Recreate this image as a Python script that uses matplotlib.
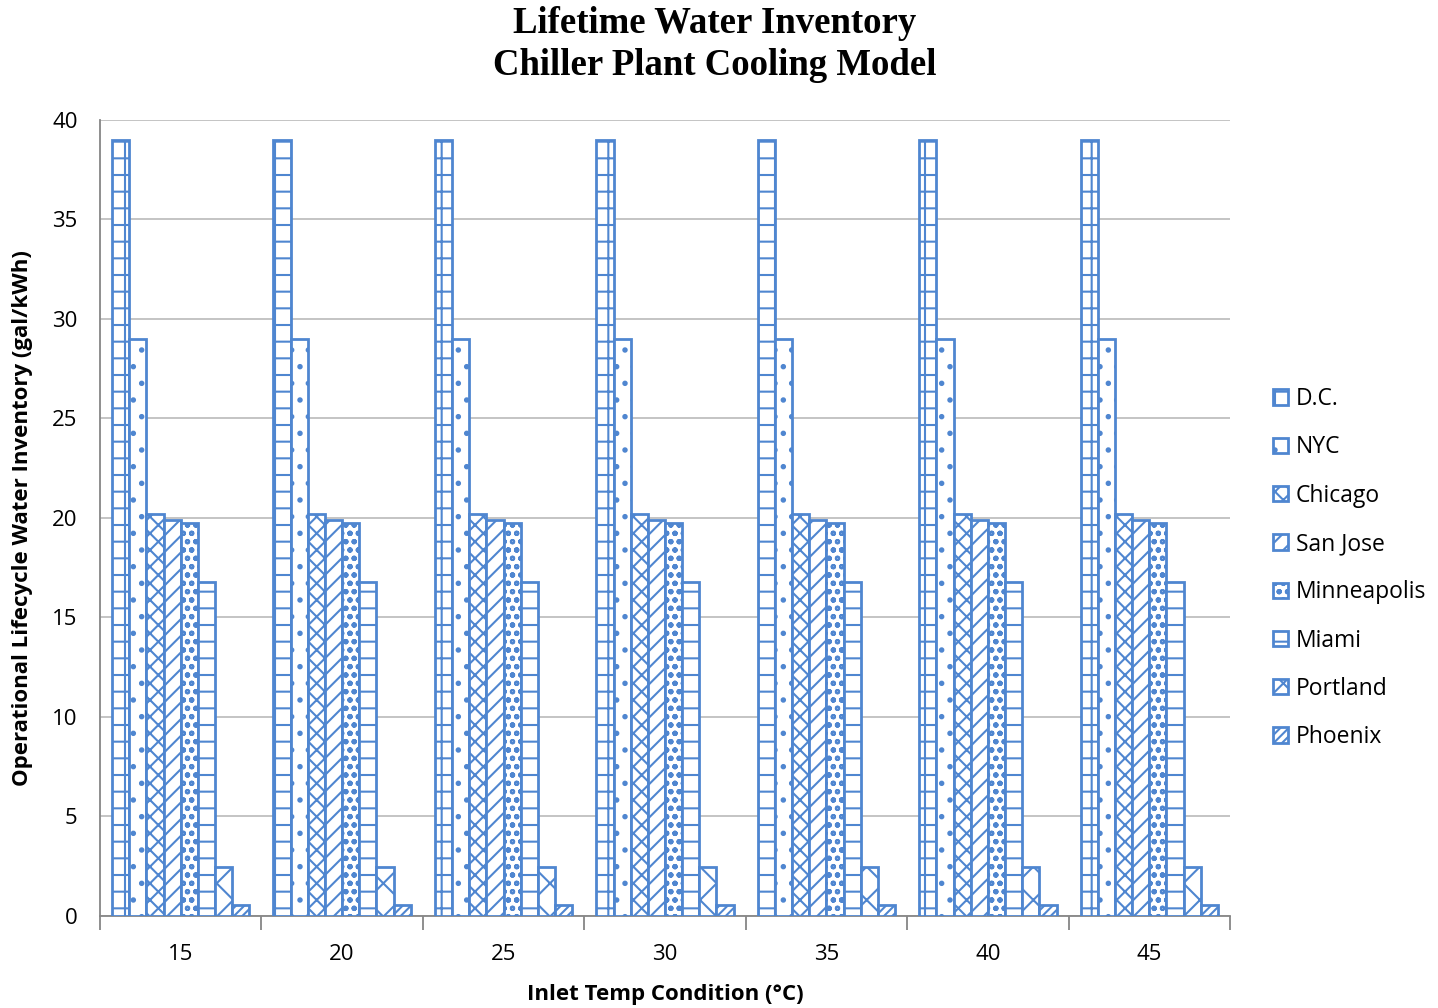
import matplotlib
matplotlib.use("Agg")
import matplotlib.pyplot as plt
import numpy as np

categories = ["15", "20", "25", "30", "35", "40", "45"]
cities = ["D.C.", "NYC", "Chicago", "San Jose", "Minneapolis", "Miami", "Portland", "Phoenix"]
values = [39.0, 29.0, 20.2, 19.9, 19.75, 16.8, 2.45, 0.55]
hatches = ["+", ".", "xx", "//", "oo", "-", "x", "////"]

blue = "#4F86D0"
plt.rcParams["hatch.color"] = blue
plt.rcParams["hatch.linewidth"] = 1.5
plt.rcParams["font.family"] = ["Open Sans", "DejaVu Sans"]

fig = plt.figure(figsize=(14.38, 10.08), dpi=100)
ax = fig.add_axes([0.0695, 0.0913, 0.7859, 0.7897])

n = len(cities)
bw = 0.85 / n
x = np.arange(len(categories))
for i, (c, v, h) in enumerate(zip(cities, values, hatches)):
    ax.bar(x - 0.425 + bw * (i + 0.5), [v] * len(categories), width=bw,
           facecolor="white", edgecolor=blue, hatch=h, linewidth=2, label=c, zorder=3)

ax.set_xlim(-0.5, len(categories) - 0.5)
ax.set_ylim(0, 40)
ax.set_yticks(np.arange(0, 41, 5))
ax.grid(axis="y", color="#BFBFBF", linewidth=1.3, zorder=0)
ax.set_xticks(x)
ax.set_xticklabels(categories)
ax.set_xticks(np.arange(-0.5, len(categories)), minor=True)
ax.tick_params(axis="x", which="major", length=0, labelsize=16, pad=20)
ax.tick_params(axis="x", which="minor", length=10, color="#868686", width=1.3)
ax.tick_params(axis="y", length=0, labelsize=16, pad=16)
for s in ["top", "right"]:
    ax.spines[s].set_visible(False)
for s in ["left", "bottom"]:
    ax.spines[s].set_color("#868686")
    ax.spines[s].set_linewidth(1.3)

ax.set_xlabel("Inlet Temp Condition (°C)", fontsize=16, fontweight="bold", labelpad=14)
ax.set_ylabel("Operational Lifecycle Water Inventory (gal/kWh)", fontsize=16, fontweight="bold", labelpad=14)

fig.suptitle("Lifetime Water Inventory\nChiller Plant Cooling Model", x=0.497, y=0.994,
             fontsize=26.5, fontweight="bold", family="Liberation Serif", linespacing=1.27)

leg = ax.legend(loc="center left", bbox_to_anchor=(1.03, 0.437), frameon=False, fontsize=16.5,
                handlelength=0.65, handleheight=0.65, handletextpad=0.35, labelspacing=1.06,
                borderaxespad=0)

fig.savefig("out.png", dpi=100)
